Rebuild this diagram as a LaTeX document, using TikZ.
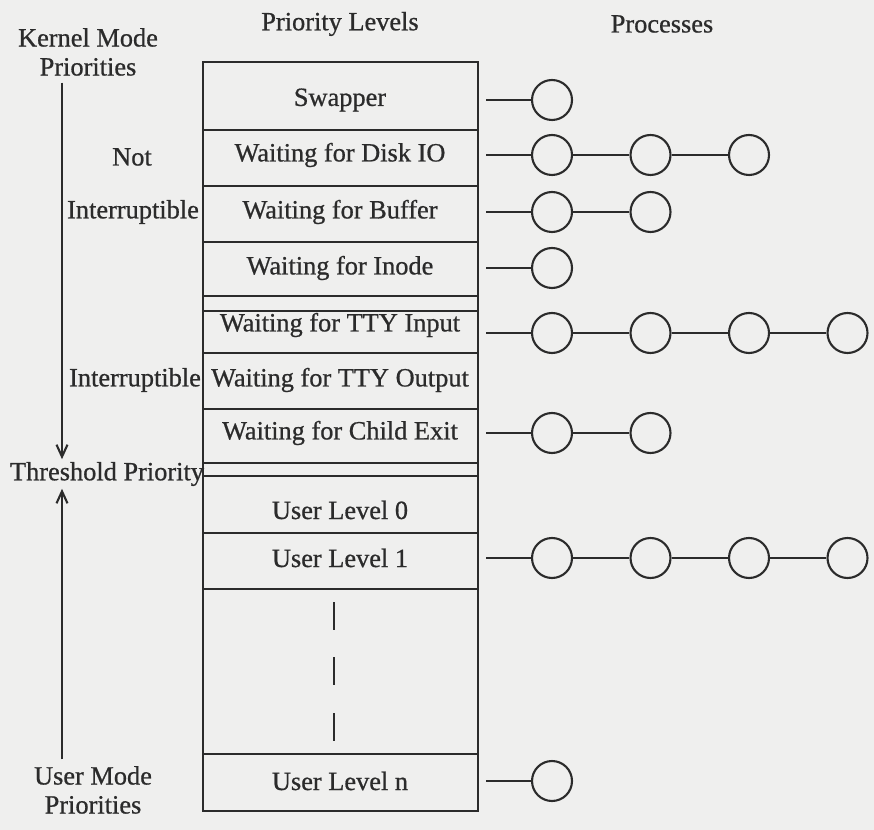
\documentclass[tikz,border=0pt]{standalone}
\usepackage{fontspec}
\setmainfont{Liberation Serif}
\newfontfamily\scanfont{Liberation Serif}[FakeBold=0.7]
\usetikzlibrary{arrows.meta}
\definecolor{figink}{HTML}{2B2B2B}
\definecolor{figpaper}{HTML}{EFEFEE}

\begin{document}
\begin{tikzpicture}[x=0.02cm,y=-0.02cm,line width=1.2pt,figink,
  every node/.style={font=\scanfont\fontsize{15}{16.5}\selectfont,text=figink},
  proc/.style={circle,draw=figink,minimum size=0.8cm,inner sep=0pt},
  tip/.style={-{Straight Barb[length=2.4mm,width=2.2mm]}}]
\fill[figpaper] (0,0) rectangle (874,830);
\node (lvhead) at (340,24) {Priority Levels};
\node (prhead) at (662,24) {Processes};
\draw (203,62) rectangle (478,811);
\foreach \y in {130,186,242,296,311,353,409,463,476,533,589,754}
  \draw (203,\y) -- (478,\y);
\foreach \y in {602,657,713}
  \draw (334,\y) -- ++(0,28);
\foreach \y/\lab [count=\r] in {100/Swapper,155/Waiting for Disk IO,212/Waiting for Buffer,
    268/Waiting for Inode,325/Waiting for TTY Input,380/Waiting for TTY Output,
    433/Waiting for Child Exit,510/User Level 0,558/User Level 1,781/User Level n}
  \node (lv\r) at (340,\y) {\lab};
\foreach \y/\n [count=\r] in {100/1,155/3,212/2,268/1,333/4,433/2,558/4,781/1}{
  \coordinate (pr\r-0) at (486,\y);
  \foreach \i [evaluate=\i as \j using int(\i-1)] in {1,...,\n}{
    \node[proc] (pr\r-\i) at ({552+98.5*\j},\y) {};
    \draw (pr\r-\j) -- (pr\r-\i);
  }
}
\coordinate (axis) at (62,0);
\node[align=center] (kmode) at (88,52) {Kernel Mode\\Priorities};
\node (notint) at (132,157) {Not};
\node (intr) at (133,212) {Interruptible};
\node (intr2) at (135,380) {Interruptible};
\node[inner sep=1pt] (thresh) at (107,474) {Threshold Priority};
\node[align=center] (umode) at (93,790) {User Mode\\Priorities};
\draw[tip] (kmode.south -| axis) -- (thresh.north -| axis);
\draw[tip] (umode.north -| axis) -- (thresh.south -| axis);
\end{tikzpicture}
\end{document}
